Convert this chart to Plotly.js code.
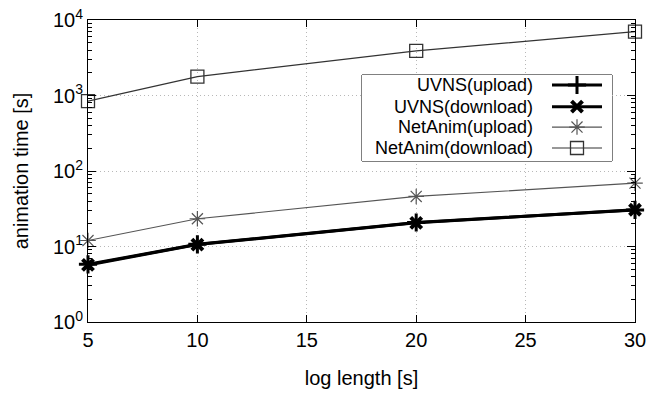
<!DOCTYPE html>
<html>
<head>
<meta charset="utf-8">
<script src="https://cdn.plot.ly/plotly-3.0.1.min.js"></script>
<style>html,body{margin:0;padding:0;background:#fff;}#chart{width:649px;height:393px;}</style>
</head>
<body>
<div id="chart"></div>
<script>
const logLength = [5, 10, 20, 30];
const uvnsUpload = [5.8, 10.7, 20.8, 30.5];
const uvnsDownload = [5.7, 10.6, 20.6, 30.7];
const netAnimUpload = [12.0, 23.3, 46, 69];
const netAnimDownload = [840, 1780, 3890, 7000];
const seriesNames = ['UVNS(upload)', 'UVNS(download)', 'NetAnim(upload)', 'NetAnim(download)'];
const yTicks = [1, 10, 100, 1000, 10000];
const yTickText = ['10<sup>0</sup>', '10<sup>1</sup>', '10<sup>2</sup>', '10<sup>3</sup>', '10<sup>4</sup>'];
const xTicks = [5, 10, 15, 20, 25, 30];

const minorTicks = [];
for (let d = 0; d < 4; d++) for (let k = 2; k <= 9; k++) minorTicks.push(k * Math.pow(10, d));

const styles = [
  {color: '#000', width: 3, symbol: 'cross-thin', size: 13, mlw: 3},
  {color: '#000', width: 3, symbol: 'x-thin', size: 11, mlw: 4},
  {color: '#555', width: 1.2, symbol: 'asterisk-open', size: 13, mlw: 1.2},
  {color: '#333', width: 1.2, symbol: 'square-open', size: 13, mlw: 1.3}
];
const seriesData = [uvnsUpload, uvnsDownload, netAnimUpload, netAnimDownload];
const FONT = 'Liberation Sans, Arial, sans-serif';

const traces = [];
seriesData.forEach((ys, i) => {
  const s = styles[i];
  traces.push({
    x: logLength, y: ys, type: 'scatter', mode: 'lines+markers', name: seriesNames[i],
    line: {color: s.color, width: s.width},
    marker: {symbol: s.symbol, size: s.size, color: s.color, line: {color: s.color, width: s.mlw}},
    showlegend: false, hoverinfo: 'skip', cliponaxis: false
  });
});

// custom legend (text left of sample), drawn on an overlay axis pair
const legRows = [0.884, 0.632, 0.395, 0.151];
const annotations = [];
seriesNames.forEach((n, i) => {
  const s = styles[i];
  traces.push({
    x: [0.76, 0.96], y: [legRows[i], legRows[i]], xaxis: 'x2', yaxis: 'y2',
    type: 'scatter', mode: 'lines', line: {color: s.color, width: s.width},
    showlegend: false, hoverinfo: 'skip'
  });
  traces.push({
    x: [0.86], y: [legRows[i]], xaxis: 'x2', yaxis: 'y2',
    type: 'scatter', mode: 'markers',
    marker: {symbol: s.symbol, size: s.size, color: s.color, line: {color: s.color, width: s.mlw}},
    showlegend: false, hoverinfo: 'skip'
  });
  annotations.push({
    xref: 'x2', yref: 'y2', x: 0.69, y: legRows[i], text: n, showarrow: false,
    xanchor: 'right', yanchor: 'middle',
    font: {family: FONT, size: 18, color: '#000'}
  });
});

const W = 649, H = 393, L = 88, R = 14, T = 20, B = 71;
const pw = W - L - R, ph = H - T - B;
const lx0 = (362 - L) / pw, lx1 = (612 - L) / pw;
const ly0 = (H - B - 161) / ph, ly1 = (H - B - 75) / ph;

const layout = {
  width: W, height: H,
  margin: {l: L, r: R, t: T, b: B},
  paper_bgcolor: '#fff', plot_bgcolor: '#fff',
  font: {family: FONT, color: '#000'},
  showlegend: false,
  xaxis: {
    range: [5, 30], tickvals: xTicks, ticktext: xTicks.map(String),
    ticks: 'inside', ticklen: 7, tickcolor: '#000', mirror: 'allticks',
    showline: true, linecolor: '#000', linewidth: 1,
    showgrid: true, gridcolor: '#b8b8b8', griddash: '1px,3px', gridwidth: 1,
    zeroline: false, tickfont: {size: 20}, automargin: false,
    title: {text: 'log length [s]', font: {size: 20}, standoff: 20}
  },
  yaxis: {
    type: 'log', range: [0, 4], tickmode: 'array', tickvals: yTicks, ticktext: yTickText,
    ticks: 'inside', ticklen: 8, tickcolor: '#000', mirror: 'allticks',
    showline: true, linecolor: '#000', linewidth: 1,
    showgrid: true, gridcolor: '#b8b8b8', griddash: '1px,3px', gridwidth: 1,
    zeroline: false, tickfont: {size: 20}, automargin: false,
    minor: {tickmode: 'array', tickvals: minorTicks, ticks: 'inside', ticklen: 4, tickcolor: '#000', showgrid: false},
    title: {text: 'animation time [s]', font: {size: 20}, standoff: 18}
  },
  xaxis2: {domain: [lx0, lx1], range: [0, 1], visible: false, fixedrange: true, anchor: 'y2'},
  yaxis2: {domain: [ly0, ly1], range: [0, 1], visible: false, fixedrange: true, anchor: 'x2'},
  shapes: [{
    type: 'rect', xref: 'paper', yref: 'paper', x0: lx0, x1: lx1, y0: ly0, y1: ly1,
    line: {color: '#000', width: 1}, fillcolor: '#fff', layer: 'below'
  }],
  annotations: annotations
};

Plotly.newPlot('chart', traces, layout, {staticPlot: true, displayModeBar: false});
</script>
</body>
</html>
